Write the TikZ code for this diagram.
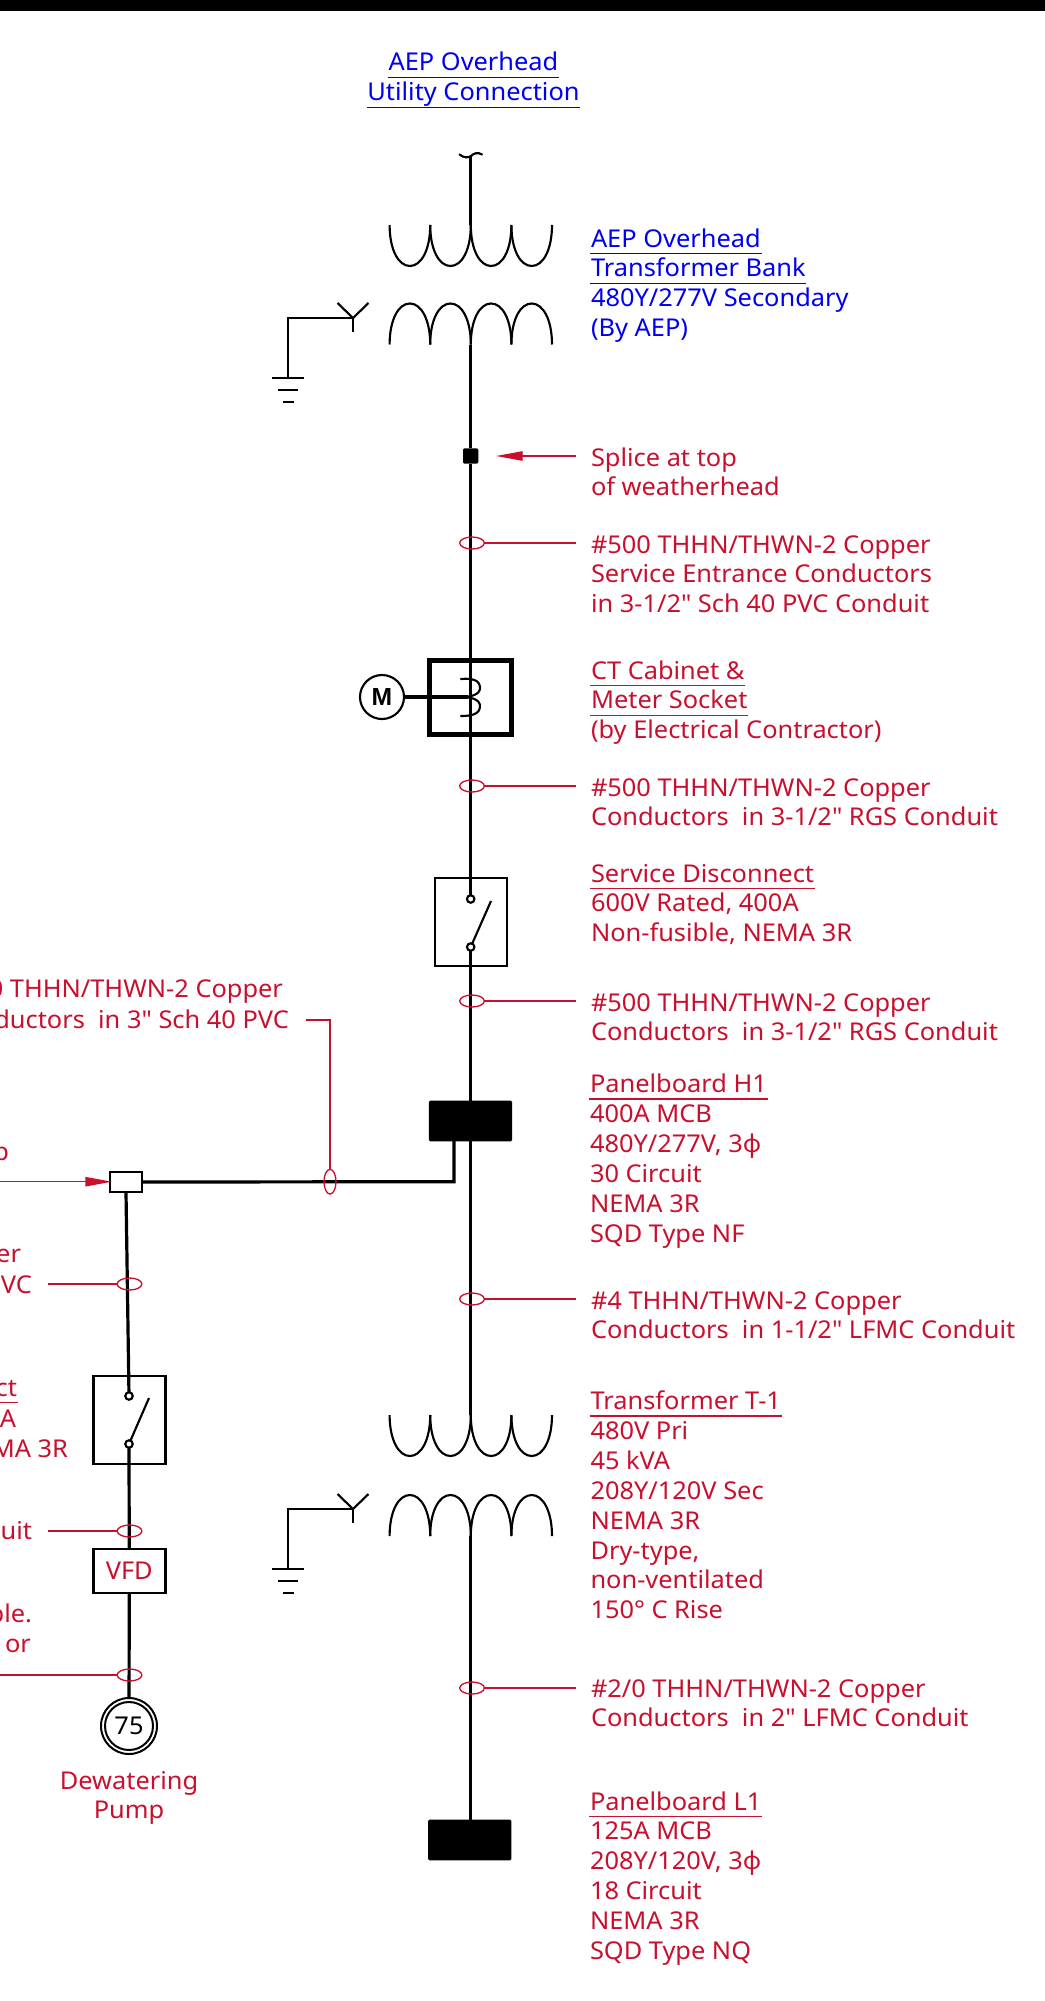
\documentclass[tikz,border=0pt]{standalone}
\usepackage{fontspec}
\newfontfamily\nsf[FakeStretch=1.035]{Noto Sans}
\newfontfamily\mfont{Liberation Sans}
\usetikzlibrary{arrows.meta,shapes.geometric}
\definecolor{wred}{HTML}{C8102E}
\definecolor{wblue}{HTML}{0000F0}
\newcommand\fnt{\nsf\fontsize{18.4pt}{22.43pt}\selectfont}
\newcommand\fst{\vrule width 0pt height 15pt\relax}
% underlined text: rule drawn at a fixed depth below the baseline
\newcommand\ul[1]{\leavevmode\setbox0\hbox{#1}\rlap{\kern-0.6pt\vrule width \dimexpr\wd0+1.2pt\relax height -4.4pt depth 5.4pt}\box0\relax}
\tikzset{
  x=0.75pt,y=-0.75pt,
  wire/.style={draw=black,line width=2.4pt},
  thin wire/.style={draw=black,line width=1.6pt},
  leader/.style={draw=wred,line width=1pt},
  tick/.style={draw=wred,line width=1pt,ellipse,minimum width=18.5pt,minimum height=9pt,inner sep=0pt,outer sep=0pt},
  vtick/.style={draw=wred,line width=1pt,ellipse,minimum width=9pt,minimum height=18.5pt,inner sep=0pt,outer sep=0pt},
  txt/.style={inner sep=0pt,outer sep=0pt,font=\fnt,text=wred,align=left,anchor=north west},
  frag/.style={inner sep=0pt,outer sep=0pt,font=\fnt,text=wred,anchor=base east},
  panel/.style={fill=black,rounded corners=1pt,inner sep=0pt,outer sep=0pt},
  encl/.style={draw=black,fill=white,line width=2.2pt,inner sep=0pt,outer sep=0pt},
  contact/.style={circle,draw=black,fill=white,line width=1.6pt,minimum size=5.6pt,inner sep=0pt,outer sep=0pt},
  cupcoil/.pic={
    \foreach \k in {0,40.6,81.2,121.8}{
      \draw[thin wire] (\k,0) .. controls (\k,25) and (\k+9,41) .. (\k+20.3,41) .. controls (\k+31.6,41) and (\k+40.6,25) .. (\k+40.6,0);
    }
  },
  gndsym/.pic={
    \draw[thin wire] (-16,0) -- (16,0);
    \draw[thin wire] (-10,12) -- (10,12);
    \draw[thin wire] (-5.5,24) -- (5.5,24);
  },
  wyesym/.pic={
    \draw[thin wire] (0,0) -- (-15.5,-15);
    \draw[thin wire] (0,0) -- (15.5,-15);
    \draw[thin wire] (0,0) -- (0,14);
  }
}
\begin{document}
\begin{tikzpicture}
\useasboundingbox (0,0) rectangle (1045,2001);
\clip (0,0) rectangle (1045,2001);
\fill[black] (0,0) rectangle (1045,11);

% equipment nodes
\node[panel,minimum width=11.5pt,minimum height=11.5pt] (splice) at (470.7,456) {};
\node[encl,line width=3.6pt,minimum width=61.4pt,minimum height=56pt,fill=none] (ct) at (470.7,697.5) {};
\node[circle,draw=black,line width=1.6pt,minimum size=33pt,inner sep=0pt,outer sep=0pt,font=\mfont\bfseries\fontsize{18.5pt}{20pt}\selectfont] (meter) at (382,697) {M};
\node[encl,fill=none,minimum width=54pt,minimum height=66pt] (disc) at (471,922) {};
\coordinate (discT) at (470.7,878);
\node[contact] (discA) at (470.7,899) {};
\node[contact] (discB) at (470.7,947) {};
\coordinate (discArm) at (491,901);
\node[panel,minimum width=62.5pt,minimum height=30.5pt] (h1) at (470.5,1121) {};
\coordinate (h1tap) at (454,1141);
\coordinate (h1corner) at (454,1181.7);
\node[encl,minimum width=24pt,minimum height=15pt] (tap) at (126,1182) {};
\node[encl,fill=none,minimum width=54pt,minimum height=66pt] (disc2) at (129.3,1420) {};
\node[contact] (discC) at (129,1396) {};
\node[contact] (discD) at (129,1444) {};
\coordinate (discArm2) at (149,1398);
\node[encl,minimum width=54pt,minimum height=33pt,text=wred,font=\fnt] (vfd) at (129.3,1571) {VFD};
\node[circle,draw=black,line width=1.5pt,minimum size=42pt,inner sep=0pt,outer sep=0pt] (motorO) at (129,1726) {};
\node[circle,draw=black,line width=1.5pt,minimum size=36pt,inner sep=0pt,outer sep=0pt,font=\fnt] (motor) at (129,1726) {75};
\node[panel,minimum width=62.5pt,minimum height=30.5pt] (l1) at (469.7,1840) {};

% transformer T0 (utility)
\coordinate (tilde) at (470.7,156);
\coordinate (priA) at (470.7,225);
\coordinate (secA) at (470.7,345);
\pic at (389.6,225) {cupcoil};
\pic[yscale=-1] at (389.6,344.5) {cupcoil};
\pic at (353,318) {wyesym};
\coordinate (gA) at (288,318);
\coordinate (wyeA) at (353,318);
\coordinate (gndA) at (288,378);
\pic at (288,378) {gndsym};
\draw[thin wire,line cap=round] (459.5,154.5) .. controls (464,158) and (468,158) .. (471,156) .. controls (474,153) and (478,152) .. (482,154.5);
\draw[wire,line width=1.9pt] (tilde) -- (priA);
\draw[thin wire] (wyeA) -- (gA) -- (gndA);

% transformer T-1
\coordinate (priB) at (470.7,1415);
\coordinate (secB) at (470.7,1536);
\pic at (389.6,1415) {cupcoil};
\pic[yscale=-1] at (389.6,1536) {cupcoil};
\pic at (353,1509) {wyesym};
\coordinate (gB) at (288,1509);
\coordinate (wyeB) at (353,1509);
\coordinate (gndB) at (288,1569);
\pic at (288,1569) {gndsym};
\draw[thin wire] (wyeB) -- (gB) -- (gndB);

% main run
\draw[wire] (secA) -- (splice);
\draw[wire] (splice) -- (discA);
\draw[wire] (discB) -- (470.7,1101);
\draw[wire] (470.7,1141) -- (priB);
\draw[wire] (secB) -- (470.7,1820);
\draw[thin wire] (discB) -- (discArm);
\draw[wire] (meter) -- (468,697);
\draw[thin wire,line cap=round] (461,679) .. controls (472,678) and (480,680) .. (480,688) .. controls (480,695) and (470,697) .. (462,697) .. controls (470,697) and (480,699) .. (480,706) .. controls (480,714) and (472,716) .. (461,716);
% branch
\draw[wire] (h1tap) -- (h1corner) -- (tap.east);
\draw[wire] (tap.south) -- (discC);
\draw[wire] (discD) -- (vfd);
\draw[thin wire] (discD) -- (discArm2);
\draw[wire] (vfd) -- (motorO);

% conductor ticks and leaders
\node[tick] (t1) at (472,543) {};
\coordinate (t1e) at (576,543);
\draw[leader] (t1) -- (t1e);
\node[tick] (t2) at (472,786) {};
\coordinate (t2e) at (576,786);
\draw[leader] (t2) -- (t2e);
\node[tick] (t3) at (472,1001) {};
\coordinate (t3e) at (576,1001);
\draw[leader] (t3) -- (t3e);
\node[tick] (t4) at (472,1299) {};
\coordinate (t4e) at (576,1299);
\draw[leader] (t4) -- (t4e);
\node[tick] (t5) at (472,1688) {};
\coordinate (t5e) at (576,1688);
\draw[leader] (t5) -- (t5e);
\node[vtick] (t6) at (330,1181.7) {};
\coordinate (t6e) at (305.5,1020);
\coordinate (t6c) at (330,1020);
\draw[leader] (t6e) -- (t6c) -- (t6);
\node[tick] (t7) at (129.5,1284) {};
\coordinate (t7e) at (48,1284);
\draw[leader] (t7e) -- (t7);
\node[tick] (t8) at (129.5,1531) {};
\coordinate (t8e) at (48,1531);
\draw[leader] (t8e) -- (t8);
\node[tick] (t9) at (129.5,1675) {};
\coordinate (t9e) at (0,1675);
\draw[leader] (t9e) -- (t9);

% arrows
\coordinate (a1s) at (576,456);
\draw[leader,-{Triangle[length=20pt,width=7pt]}] (a1s) -- (496,456);
\coordinate (a2s) at (0,1181.7);
\draw[leader,-{Triangle[length=20pt,width=7pt]}] (a2s) -- (112,1181.7);

% labels
\node[txt,align=center,anchor=north,text=wblue] (lblUtil) at (473.5,51) {\fst\ul{AEP Overhead}\\\ul{Utility Connection}};
\node[txt,text=wblue] (lblBank) at (591,227) {\fst\ul{AEP Overhead}\\\ul{Transformer Bank}\\480Y/277V Secondary\\(By AEP)};
\node[txt] (lblSplice) at (591,446) {\fst Splice at top\\of weatherhead};
\node[txt] (lblC1) at (591,533) {\fst\#500 THHN/THWN-2 Copper\\Service Entrance Conductors\\in 3-1/2" Sch 40 PVC Conduit};
\node[txt] (lblCT) at (591,659) {\fst\ul{CT Cabinet \&}\\\ul{Meter Socket}\\(by Electrical Contractor)};
\node[txt] (lblC2) at (591,776) {\fst\#500 THHN/THWN-2 Copper\\Conductors\ \ in 3-1/2" RGS Conduit};
\node[txt] (lblSD) at (591,862) {\fst\ul{Service Disconnect}\\600V Rated, 400A\\Non-fusible, NEMA 3R};
\node[txt] (lblC3) at (591,991) {\fst\#500 THHN/THWN-2 Copper\\Conductors\ \ in 3-1/2" RGS Conduit};
\node[txt] (lblH1) at (590,1072.5) {\fst\ul{Panelboard H1}\\400A MCB\\480Y/277V, 3ϕ\\30 Circuit\\NEMA 3R\\SQD Type NF};
\node[txt] (lblC4) at (591,1289) {\fst\#4 THHN/THWN-2 Copper\\Conductors\ \ in 1-1/2" LFMC Conduit};
\node[txt] (lblT1) at (590.5,1389.5) {\fst\ul{Transformer T-1}\\480V Pri\\45 kVA\\208Y/120V Sec\\NEMA 3R\\Dry-type,\\non-ventilated\\150° C Rise};
\node[txt] (lblC5) at (591,1677) {\fst\#2/0 THHN/THWN-2 Copper\\Conductors\ \ in 2" LFMC Conduit};
\node[txt] (lblL1) at (590,1790) {\fst\ul{Panelboard L1}\\125A MCB\\208Y/120V, 3ϕ\\18 Circuit\\NEMA 3R\\SQD Type NQ};
\node[txt,align=center,anchor=north] (lblPump) at (129,1769) {\fst Dewatering\\Pump};

% labels cut off by the left edge
\node[frag] (f1) at (283,997) {0 THHN/THWN-2 Copper};
\node[frag] (f2) at (289,1028) {ductors\ \ in 3" Sch 40 PVC};
\node[frag] (f3) at (9,1160) {p};
\node[frag] (f4) at (21,1262) {er};
\node[frag] (f5) at (32,1293) {VC};
\node[frag] (f6) at (17,1396) {\ul{ct}};
\node[frag] (f7) at (16,1427) {A};
\node[frag] (f8) at (68,1457) {MA 3R};
\node[frag] (f9) at (32,1539) {uit};
\node[frag] (f10) at (32,1622) {ble.};
\node[frag] (f11) at (31,1652) {X or};
\end{tikzpicture}
\end{document}
